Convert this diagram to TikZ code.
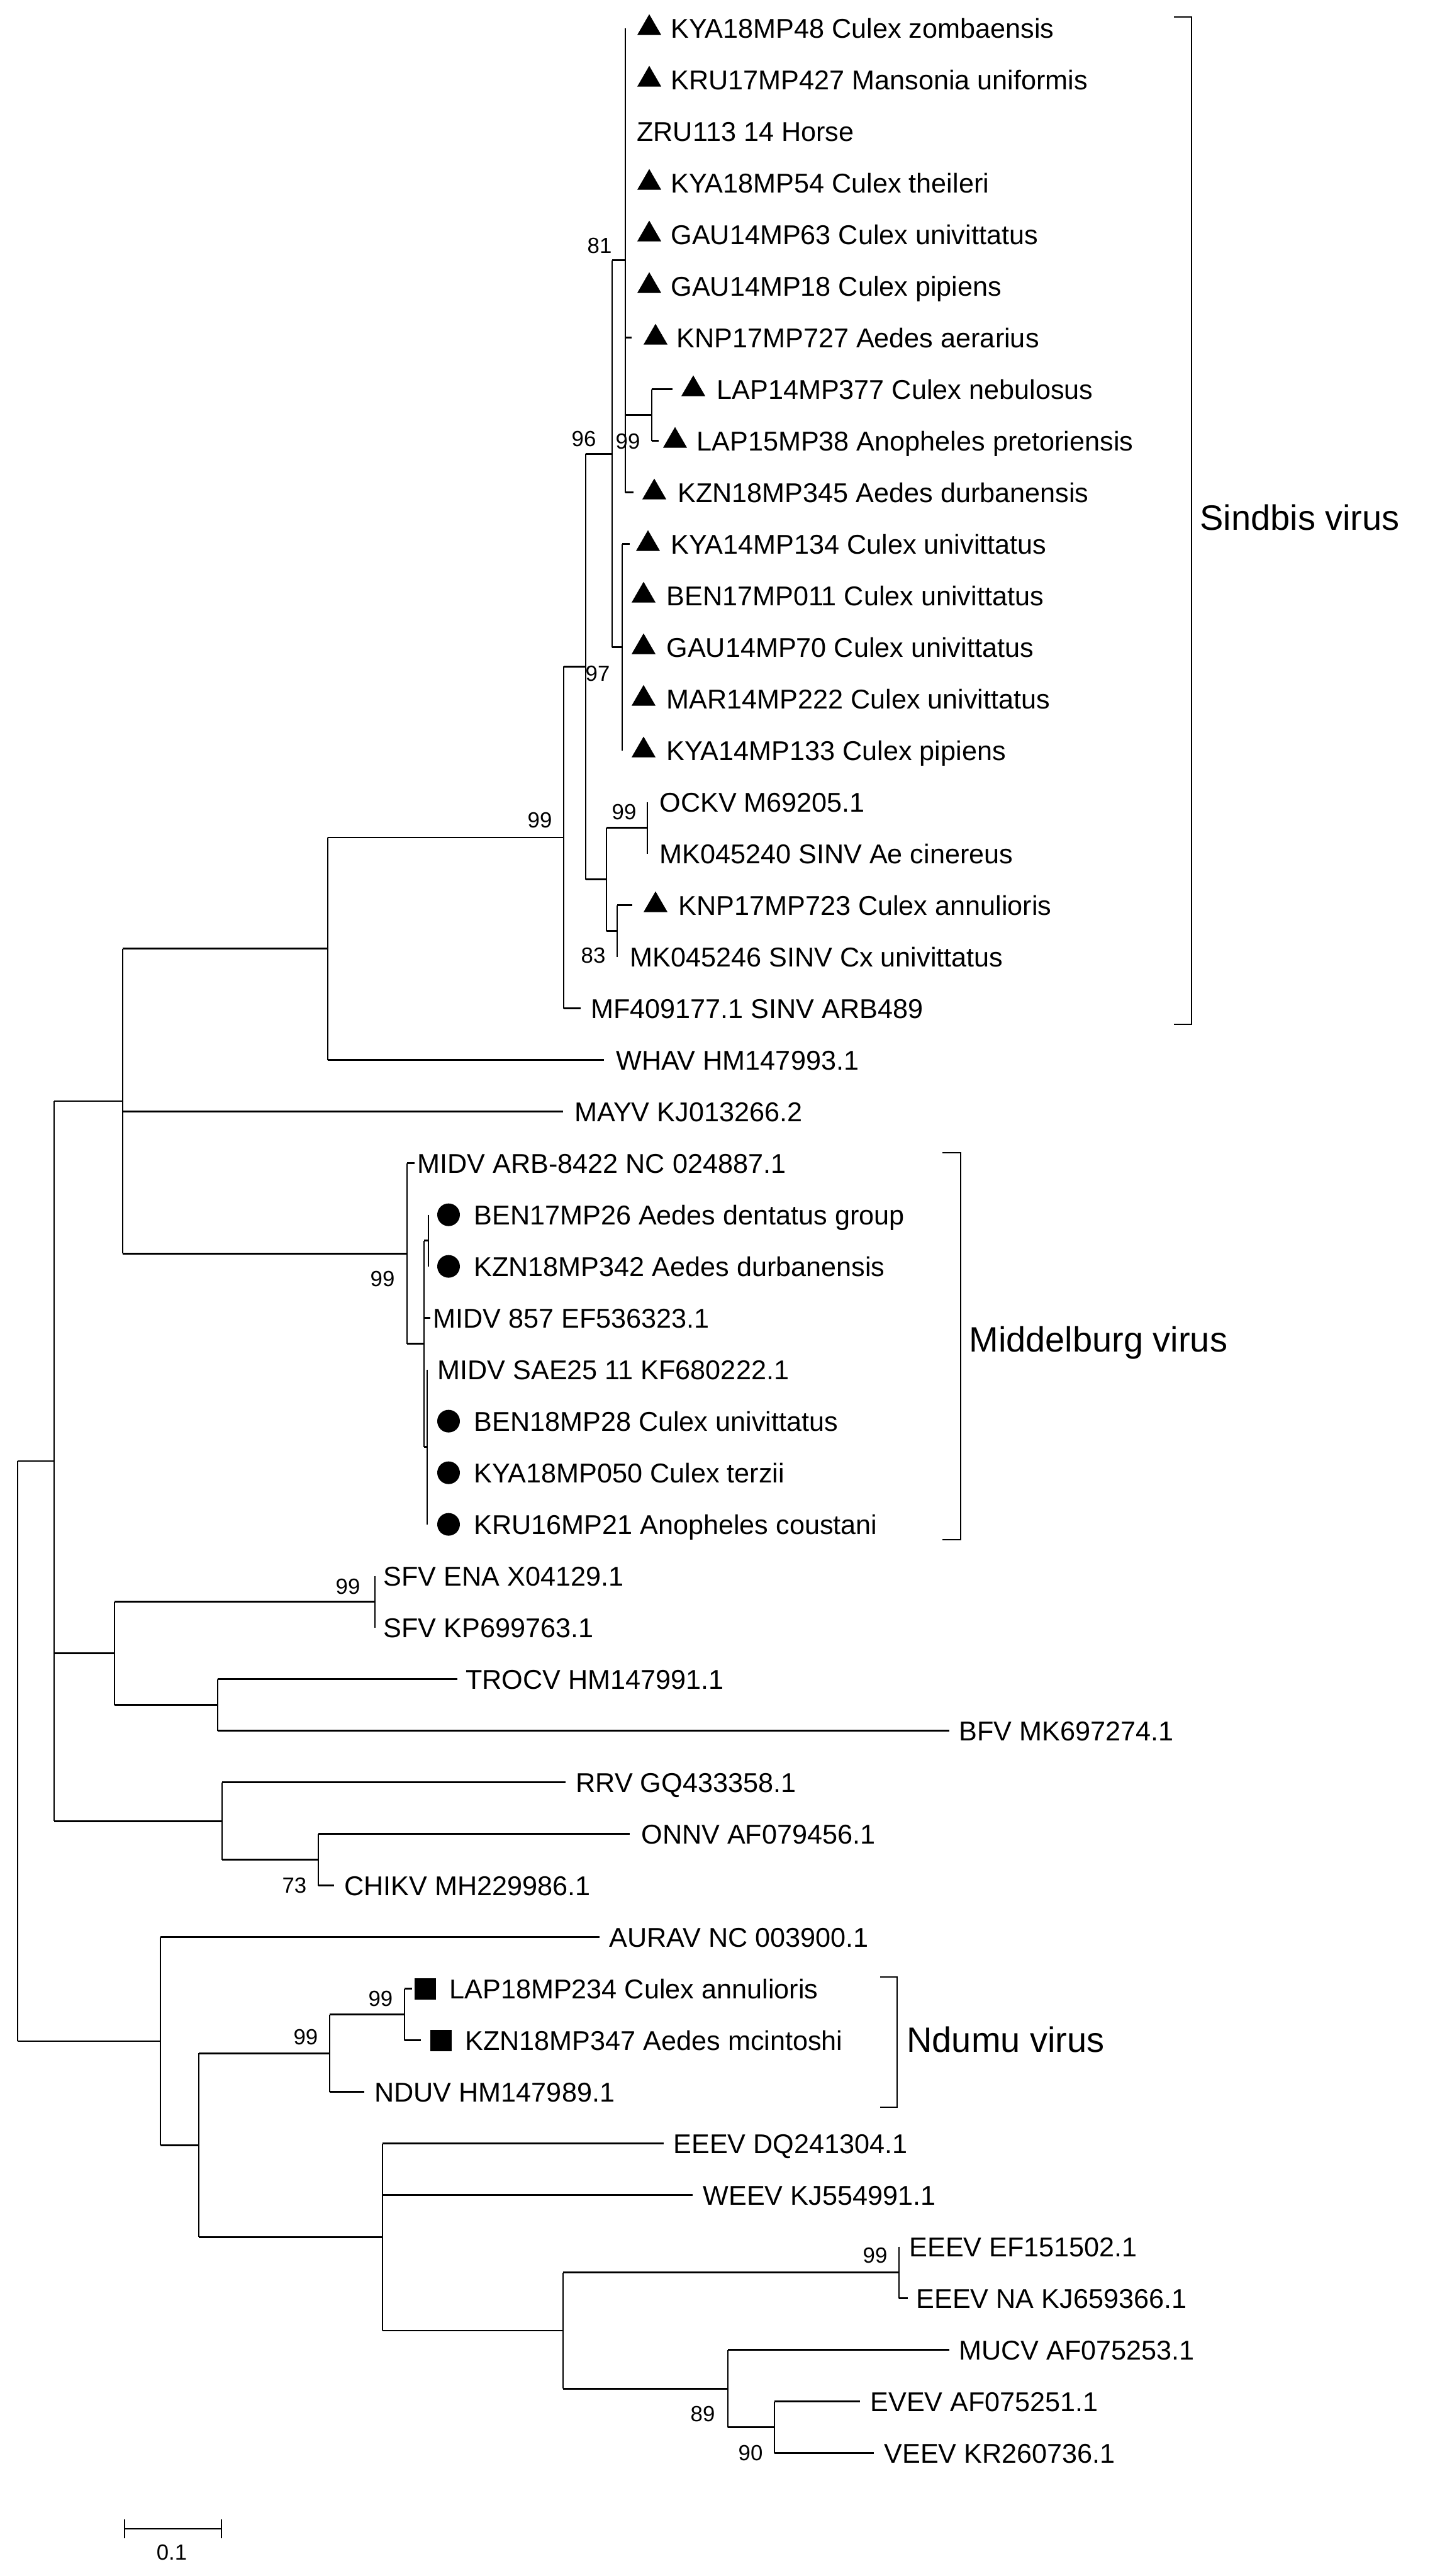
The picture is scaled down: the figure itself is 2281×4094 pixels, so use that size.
\documentclass[tikz,border=0pt]{standalone}
\usepackage{fontspec}
\setmainfont{Liberation Sans}
\usetikzlibrary{shapes.geometric}
\begin{document}
\begin{tikzpicture}[x=0.25pt,y=-0.25pt,line width=0.7pt,
  tip/.style={font=\fontsize{10.8}{12}\selectfont,inner sep=0,anchor=west,text height=7.75pt,text depth=0pt},
  bs/.style={font=\fontsize{8.7}{10}\selectfont,inner sep=0},
  clade/.style={font=\fontsize{14}{16}\selectfont,inner sep=0,anchor=west},
  tri/.style={regular polygon,regular polygon sides=3,fill=black,inner sep=0,minimum size=11pt},
  dot/.style={circle,fill=black,inner sep=0,minimum size=9pt},
  sq/.style={rectangle,fill=black,inner sep=0,minimum size=8.5pt}]
\useasboundingbox (0,0) rectangle (2281,4094);
% ---------- internal nodes
\coordinate (P1) at (994,413.6);
\coordinate (LAPn) at (1036,659.6);
\coordinate (P2) at (989,1028.6);
\coordinate (C) at (973,721.1);
\coordinate (OCK) at (1029,1315.6);
\coordinate (F) at (981,1479.6);
\coordinate (E) at (964,1397.6);
\coordinate (B) at (931,1059.4);
\coordinate (S) at (896,1331);
\coordinate (A) at (521,1507.8);
\coordinate (M3) at (681,1971.6);
\coordinate (M4) at (679,2299.6);
\coordinate (M2) at (674,2135.6);
\coordinate (M) at (647,1992.1);
\coordinate (G) at (195,1750);
\coordinate (SFV) at (596,2545.6);
\coordinate (J) at (346,2709.6);
\coordinate (I) at (182,2627.6);
\coordinate (N) at (506,2955.6);
\coordinate (L) at (353,2894.1);
\coordinate (H) at (86,2322);
\coordinate (Nd) at (643,3201.6);
\coordinate (P) at (524,3263.1);
\coordinate (EE) at (1429,3611.6);
\coordinate (V) at (1231,3857.6);
\coordinate (U) at (1157,3796.1);
\coordinate (T) at (895,3703.9);
\coordinate (Q) at (608,3555.2);
\coordinate (O) at (316,3409.2);
\coordinate (K) at (255,3243.9);
\coordinate (R) at (28,2783);
% ---------- branch ends
\coordinate (e0) at (994,44.6);
\coordinate (e6) at (1004,536.6);
\coordinate (e7) at (1069,618.6);
\coordinate (e8) at (1047,700.6);
\coordinate (e9) at (1007,782.6);
\coordinate (e10) at (1001,864.6);
\coordinate (e14) at (989,1192.6);
\coordinate (e15) at (1029,1274.6);
\coordinate (e16) at (1029,1356.6);
\coordinate (e17) at (1005,1438.6);
\coordinate (e18) at (981,1520.6);
\coordinate (e19) at (923,1602.6);
\coordinate (e20) at (960,1684.6);
\coordinate (e21) at (895,1766.6);
\coordinate (e22) at (659,1848.6);
\coordinate (e23) at (681,1930.6);
\coordinate (e24) at (681,2012.6);
\coordinate (e25) at (684,2094.6);
\coordinate (e26) at (679,2176.6);
\coordinate (e29) at (679,2422.6);
\coordinate (e30) at (596,2504.6);
\coordinate (e31) at (596,2586.6);
\coordinate (e32) at (727,2668.6);
\coordinate (e33) at (1509,2750.6);
\coordinate (e34) at (899,2832.6);
\coordinate (e35) at (1001,2914.6);
\coordinate (e36) at (531,2996.6);
\coordinate (e37) at (953,3078.6);
\coordinate (e38) at (655,3160.6);
\coordinate (e39) at (669,3242.6);
\coordinate (e40) at (579,3324.6);
\coordinate (e41) at (1055,3406.6);
\coordinate (e42) at (1101,3488.6);
\coordinate (e43) at (1429,3570.6);
\coordinate (e44) at (1443,3652.6);
\coordinate (e45) at (1509,3734.6);
\coordinate (e46) at (1367,3816.6);
\coordinate (e47) at (1389,3898.6);
% ---------- branches
\draw (P1 |- e0) -- (P1 |- e9);
\draw (P1 |- e6) -- (e6); \draw (P1 |- e9) -- (e9);
\draw (P1 |- LAPn) -- (LAPn);
\draw (LAPn |- e7) -- (LAPn |- e8); \draw (LAPn |- e7) -- (e7); \draw (LAPn |- e8) -- (e8);
\draw (P2 |- e10) -- (P2 |- e14); \draw (P2 |- e10) -- (e10);
\draw (C |- P1) -- (C |- P2); \draw (C |- P1) -- (P1); \draw (C |- P2) -- (P2);
\draw (OCK |- e15) -- (OCK |- e16);
\draw (F |- e17) -- (F |- e18); \draw (F |- e17) -- (e17);
\draw (E |- OCK) -- (E |- F); \draw (E |- OCK) -- (OCK); \draw (E |- F) -- (F);
\draw (B |- C) -- (B |- E); \draw (B |- C) -- (C); \draw (B |- E) -- (E);
\draw (S |- B) -- (S |- e19); \draw (S |- B) -- (B); \draw (S |- e19) -- (e19);
\draw (A |- S) -- (A |- e20); \draw (A |- S) -- (S); \draw (A |- e20) -- (e20);
\draw (M3 |- e23) -- (M3 |- e24);
\draw (M4 |- e26) -- (M4 |- e29);
\draw (M2 |- M3) -- (M2 |- M4); \draw (M2 |- M3) -- (M3); \draw (M2 |- M4) -- (M4); \draw (M2 |- e25) -- (e25);
\draw (M |- e22) -- (M |- M2); \draw (M |- e22) -- (e22); \draw (M |- M2) -- (M2);
\draw (G |- A) -- (G |- M); \draw (G |- A) -- (A); \draw (G |- e21) -- (e21); \draw (G |- M) -- (M);
\draw (SFV |- e30) -- (SFV |- e31);
\draw (J |- e32) -- (J |- e33); \draw (J |- e32) -- (e32); \draw (J |- e33) -- (e33);
\draw (I |- SFV) -- (I |- J); \draw (I |- SFV) -- (SFV); \draw (I |- J) -- (J);
\draw (N |- e35) -- (N |- e36); \draw (N |- e35) -- (e35); \draw (N |- e36) -- (e36);
\draw (L |- e34) -- (L |- N); \draw (L |- e34) -- (e34); \draw (L |- N) -- (N);
\draw (H |- G) -- (H |- L); \draw (H |- G) -- (G); \draw (H |- I) -- (I); \draw (H |- L) -- (L);
\draw (Nd |- e38) -- (Nd |- e39); \draw (Nd |- e38) -- (e38); \draw (Nd |- e39) -- (e39);
\draw (P |- Nd) -- (P |- e40); \draw (P |- Nd) -- (Nd); \draw (P |- e40) -- (e40);
\draw (EE |- e43) -- (EE |- e44); \draw (EE |- e44) -- (e44);
\draw (V |- e46) -- (V |- e47); \draw (V |- e46) -- (e46); \draw (V |- e47) -- (e47);
\draw (U |- e45) -- (U |- V); \draw (U |- e45) -- (e45); \draw (U |- V) -- (V);
\draw (T |- EE) -- (T |- U); \draw (T |- EE) -- (EE); \draw (T |- U) -- (U);
\draw (Q |- e41) -- (Q |- T); \draw (Q |- e41) -- (e41); \draw (Q |- e42) -- (e42); \draw (Q |- T) -- (T);
\draw (O |- P) -- (O |- Q); \draw (O |- P) -- (P); \draw (O |- Q) -- (Q);
\draw (K |- e37) -- (K |- O); \draw (K |- e37) -- (e37); \draw (K |- O) -- (O);
\draw (R |- H) -- (R |- K); \draw (R |- H) -- (H); \draw (R |- K) -- (K);
% ---------- markers
\foreach \y/\cx/\n in {44.6/1032/m0,126.6/1032/m1,290.6/1032/m3,372.6/1032/m4,454.6/1032/m5,536.6/1042/m6,618.6/1102/m7,700.6/1073/m8,782.6/1040/m9,864.6/1030/m10,946.6/1023/m11,1028.6/1023/m12,1110.6/1023/m13,1192.6/1023/m14,1438.6/1042/m17}
  \node[tri] (\n) at (\cx,\y) {};
\foreach \y/\n in {1930.6/c23,2012.6/c24,2340.6/c28,2258.6/c27,2422.6/c29}
  \node[dot] (\n) at (713,\y) {};
\node[sq] (s38) at (676,3160.6) {};
\node[sq] (s39) at (701,3242.6) {};
% ---------- tip labels
\node[tip] (t0) at (1065,44.6) {KYA18MP48 Culex zombaensis};
\node[tip] (t1) at (1065,126.6) {KRU17MP427 Mansonia uniformis};
\node[tip] (t2) at (1011,208.6) {ZRU113 14 Horse};
\node[tip] (t3) at (1065,290.6) {KYA18MP54 Culex theileri};
\node[tip] (t4) at (1065,372.6) {GAU14MP63 Culex univittatus};
\node[tip] (t5) at (1065,454.6) {GAU14MP18 Culex pipiens};
\node[tip] (t6) at (1074,536.6) {KNP17MP727 Aedes aerarius};
\node[tip] (t7) at (1138,618.6) {LAP14MP377 Culex nebulosus};
\node[tip] (t8) at (1106,700.6) {LAP15MP38 Anopheles pretoriensis};
\node[tip] (t9) at (1076,782.6) {KZN18MP345 Aedes durbanensis};
\node[tip] (t10) at (1065,864.6) {KYA14MP134 Culex univittatus};
\node[tip] (t11) at (1058,946.6) {BEN17MP011 Culex univittatus};
\node[tip] (t12) at (1058,1028.6) {GAU14MP70 Culex univittatus};
\node[tip] (t13) at (1058,1110.6) {MAR14MP222 Culex univittatus};
\node[tip] (t14) at (1058,1192.6) {KYA14MP133 Culex pipiens};
\node[tip] (t15) at (1047,1274.6) {OCKV M69205.1};
\node[tip] (t16) at (1047,1356.6) {MK045240 SINV Ae cinereus};
\node[tip] (t17) at (1077,1438.6) {KNP17MP723 Culex annulioris};
\node[tip] (t18) at (1000,1520.6) {MK045246 SINV Cx univittatus};
\node[tip] (t19) at (938,1602.6) {MF409177.1 SINV ARB489};
\node[tip] (t20) at (978,1684.6) {WHAV HM147993.1};
\node[tip] (t21) at (912,1766.6) {MAYV KJ013266.2};
\node[tip] (t22) at (662,1848.6) {MIDV ARB-8422 NC 024887.1};
\node[tip] (t23) at (752,1930.6) {BEN17MP26 Aedes dentatus group};
\node[tip] (t24) at (752,2012.6) {KZN18MP342 Aedes durbanensis};
\node[tip] (t25) at (687,2094.6) {MIDV 857 EF536323.1};
\node[tip] (t26) at (694,2176.6) {MIDV SAE25 11 KF680222.1};
\node[tip] (t27) at (752,2258.6) {BEN18MP28 Culex univittatus};
\node[tip] (t28) at (752,2340.6) {KYA18MP050 Culex terzii};
\node[tip] (t29) at (752,2422.6) {KRU16MP21 Anopheles coustani};
\node[tip] (t30) at (608,2504.6) {SFV ENA X04129.1};
\node[tip] (t31) at (608,2586.6) {SFV KP699763.1};
\node[tip] (t32) at (739,2668.6) {TROCV HM147991.1};
\node[tip] (t33) at (1523,2750.6) {BFV MK697274.1};
\node[tip] (t34) at (914,2832.6) {RRV GQ433358.1};
\node[tip] (t35) at (1018,2914.6) {ONNV AF079456.1};
\node[tip] (t36) at (546,2996.6) {CHIKV MH229986.1};
\node[tip] (t37) at (967,3078.6) {AURAV NC 003900.1};
\node[tip] (t38) at (713,3160.6) {LAP18MP234 Culex annulioris};
\node[tip] (t39) at (738,3242.6) {KZN18MP347 Aedes mcintoshi};
\node[tip] (t40) at (594,3324.6) {NDUV HM147989.1};
\node[tip] (t41) at (1069,3406.6) {EEEV DQ241304.1};
\node[tip] (t42) at (1116,3488.6) {WEEV KJ554991.1};
\node[tip] (t43) at (1444,3570.6) {EEEV EF151502.1};
\node[tip] (t44) at (1455,3652.6) {EEEV NA KJ659366.1};
\node[tip] (t45) at (1523,3734.6) {MUCV AF075253.1};
\node[tip] (t46) at (1382,3816.6) {EVEV AF075251.1};
\node[tip] (t47) at (1404,3898.6) {VEEV KR260736.1};
% ---------- bootstrap values
\node[bs] (b81) at (953,390) {81};
\node[bs] (b96) at (928,697) {96};
\node[bs] (b99l) at (998,701) {99};
\node[bs] (b97) at (950,1070) {97};
\node[bs] (b99s) at (858,1303) {99};
\node[bs] (b99o) at (992,1290) {99};
\node[bs] (b83) at (943,1518) {83};
\node[bs] (b99m) at (608,2032) {99};
\node[bs] (b99f) at (553,2521) {99};
\node[bs] (b73) at (468,2996) {73};
\node[bs] (b99n) at (605,3176) {99};
\node[bs] (b99p) at (486,3237) {99};
\node[bs] (b99e) at (1391,3584) {99};
\node[bs] (b89) at (1117,3836) {89};
\node[bs] (b90) at (1193,3898) {90};
% ---------- clade brackets
\coordinate (sb1) at (1866,27); \coordinate (sb2) at (1866,1628);
\draw (sb1) -- ++(28,0) |- (sb2);
\node[clade] (lS) at (1906,822) {Sindbis virus};
\coordinate (mb1) at (1498,1832); \coordinate (mb2) at (1498,2447);
\draw (mb1) -- ++(29,0) |- (mb2);
\node[clade] (lM) at (1539,2134) {Middelburg virus};
\coordinate (nb1) at (1399,3142); \coordinate (nb2) at (1399,3349);
\draw (nb1) -- ++(27,0) |- (nb2);
\node[clade] (lN) at (1440,3241) {Ndumu virus};
% ---------- scale bar
\coordinate (sc1) at (198,4019); \coordinate (sc2) at (352,4019);
\draw (sc1) -- (sc2);
\draw (sc1) ++(0,-15) -- ++(0,30);
\draw (sc2) ++(0,-15) -- ++(0,30);
\node[bs] (lsc) at (273,4056) {0.1};
\end{tikzpicture}
\end{document}
